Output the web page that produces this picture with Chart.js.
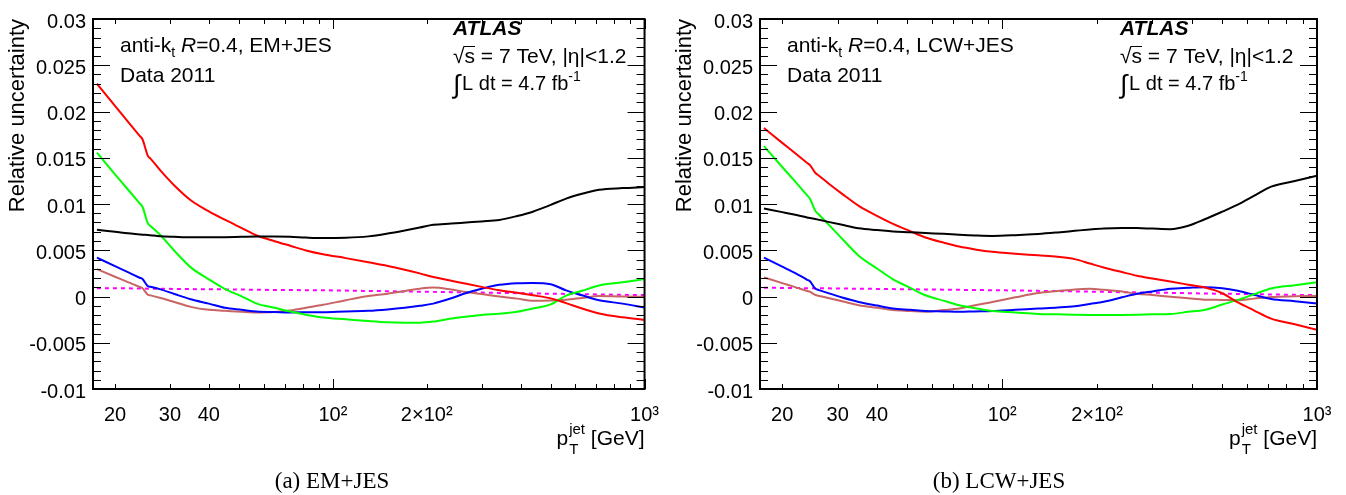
<!DOCTYPE html>
<html>
<head>
<meta charset="utf-8">
<script src="https://cdn.jsdelivr.net/npm/chart.js@4.4.0/dist/chart.umd.min.js"></script>
<style>
  html, body { margin: 0; padding: 0; background: #fff; }
  .panel { position: absolute; top: 0; width: 673px; height: 495px; }
  #panel-em { left: 0; }
  #panel-lcw { left: 673px; }
</style>
</head>
<body>
<div class="panel" id="panel-em"><canvas id="chart-em"></canvas></div>
<div class="panel" id="panel-lcw"><canvas id="chart-lcw"></canvas></div>
<script>
// pT sample points (GeV) the curves were read at
const ptValues = [17.5, 20, 22, 24, 24.5, 25.5, 26, 28, 31, 35, 40, 45, 51, 57, 65, 73, 82, 93, 110, 130, 150, 170, 190, 210, 240, 268, 300, 342, 390, 438, 500, 560, 630, 715, 850, 1000]
const xTickValues = [20, 30, 40, 50, 60, 70, 80, 90, 100, 200, 300, 400, 500, 600, 700, 800, 900, 1000]
const xTickLabels = { 20: "20", 30: "30", 40: "40", 100: "10²", 200: "2×10²", 1000: "10³" }

// (a) EM+JES
const emBlack   = [0.00721, 0.0070, 0.00683, 0.00671, 0.00668, 0.00665, 0.00662, 0.00651, 0.00645, 0.0064, 0.0064, 0.00641, 0.00645, 0.00648, 0.00648, 0.00645, 0.00637, 0.00632, 0.00635, 0.0065, 0.0068, 0.00713, 0.00745, 0.00775, 0.00788, 0.008, 0.00812, 0.00828, 0.0087, 0.00917, 0.0099, 0.01058, 0.0111, 0.01154, 0.01172, 0.01183]
const emRed     = [0.0230, 0.0206, 0.0189, 0.01737, 0.0170, 0.0152, 0.01491, 0.0136, 0.0120, 0.0104, 0.0092, 0.0083, 0.0074, 0.0066, 0.00598, 0.00548, 0.00498, 0.00457, 0.00415, 0.0037, 0.0033, 0.0029, 0.0025, 0.0021, 0.0017, 0.00137, 0.00104, 0.00067, 0.0004, 0.00013, -0.0002, -0.00072, -0.0013, -0.00183, -0.00225, -0.00253]
const emGreen   = [0.01555, 0.01321, 0.01157, 0.01006, 0.0097, 0.0079, 0.00763, 0.00662, 0.00495, 0.00315, 0.00186, 0.00083, 0.00002, -0.00077, -0.00122, -0.00163, -0.00197, -0.00228, -0.00247, -0.00266, -0.00279, -0.00283, -0.00283, -0.00271, -0.00239, -0.00218, -0.00199, -0.00187, -0.00165, -0.0013, -0.00085, 0.0001, 0.00062, 0.00119, 0.00153, 0.00189]
const emBlue    = [0.0042, 0.00328, 0.00263, 0.00203, 0.00189, 0.00112, 0.00105, 0.00077, 0.00027, -0.0003, -0.00077, -0.00122, -0.00144, -0.00163, -0.00168, -0.00172, -0.00171, -0.0017, -0.00162, -0.00155, -0.0014, -0.00122, -0.00101, -0.00077, -0.00019, 0.00037, 0.00083, 0.00126, 0.00144, 0.00147, 0.00133, 0.00066, 0.00013, -0.0004, -0.00077, -0.00119]
const emBrown   = [0.00296, 0.00214, 0.00156, 0.00103, 0.0009, 0.00019, 0.00012, -0.00016, -0.00059, -0.00112, -0.00144, -0.00154, -0.00165, -0.00172, -0.00168, -0.00152, -0.00122, -0.0009, -0.0004, 0.00005, 0.0003, 0.0006, 0.00085, 0.00097, 0.00075, 0.00048, 0.00027, 0.0, -0.00023, -0.00045, -0.00043, -0.00034, -0.00015, 0.00005, 0.0, -0.00002]
const emMagenta = [0.0009, 0.00089, 0.00088, 0.00086, 0.00086, 0.00085, 0.00085, 0.00084, 0.00082, 0.0008, 0.00078, 0.00077, 0.00075, 0.00073, 0.00071, 0.0007, 0.00068, 0.00067, 0.00064, 0.0006, 0.00057, 0.00054, 0.00052, 0.0005, 0.00047, 0.00044, 0.00042, 0.00039, 0.00036, 0.00033, 0.0003, 0.00028, 0.00025, 0.00022, 0.00018, 0.00015]

// (b) LCW+JES
const lcwBlack   = [0.00952, 0.00912, 0.00883, 0.00855, 0.00849, 0.00837, 0.00831, 0.00807, 0.00775, 0.00738, 0.00718, 0.00704, 0.00695, 0.00686, 0.00678, 0.00668, 0.0066, 0.00655, 0.00663, 0.00676, 0.00693, 0.0071, 0.00725, 0.00736, 0.00741, 0.0074, 0.00734, 0.00728, 0.00765, 0.00832, 0.00917, 0.00993, 0.01087, 0.01188, 0.01248, 0.01306]
const lcwRed     = [0.01821, 0.01661, 0.01548, 0.01444, 0.0142, 0.01335, 0.01313, 0.01225, 0.0111, 0.0098, 0.00872, 0.00785, 0.00707, 0.00638, 0.00583, 0.00540, 0.00509, 0.00483, 0.00463, 0.00445, 0.00429, 0.00404, 0.00356, 0.00313, 0.00264, 0.00225, 0.00195, 0.00161, 0.00128, 0.00099, 0.00035, -0.00064, -0.00149, -0.00239, -0.003, -0.0036]
const lcwGreen   = [0.01626, 0.014, 0.01241, 0.01093, 0.01058, 0.00924, 0.00894, 0.00782, 0.00624, 0.00441, 0.00303, 0.00186, 0.00094, 0.00013, -0.00045, -0.00094, -0.00126, -0.00157, -0.00173, -0.00189, -0.00193, -0.00197, -0.00199, -0.002, -0.00199, -0.00197, -0.00193, -0.00189, -0.00166, -0.00145, -0.00087, -0.00037, 0.00023, 0.00087, 0.00122, 0.00154]
const lcwBlue    = [0.0042, 0.00323, 0.00253, 0.00181, 0.00165, 0.00083, 0.00073, 0.00036, -0.00011, -0.00059, -0.00098, -0.0013, -0.00144, -0.00157, -0.00161, -0.00165, -0.00161, -0.00157, -0.00144, -0.0013, -0.00119, -0.00105, -0.0008, -0.00057, -0.00009, 0.0003, 0.00055, 0.00083, 0.00094, 0.00101, 0.0009, 0.00062, 0.00019, -0.00027, -0.00051, -0.00077]
const lcwBrown   = [0.00207, 0.00145, 0.00101, 0.0006, 0.00051, 0.00016, 0.00009, -0.00016, -0.00051, -0.00094, -0.00122, -0.00147, -0.00157, -0.00165, -0.00147, -0.0013, -0.00094, -0.00059, -0.00009, 0.00037, 0.00059, 0.00077, 0.00083, 0.00072, 0.00053, 0.0003, 0.00016, -0.00002, -0.00019, -0.00034, -0.00037, -0.0004, -0.00023, -0.00005, 0.00002, 0.00005]
const lcwMagenta = [0.00094, 0.00093, 0.00092, 0.0009, 0.0009, 0.00089, 0.00089, 0.00088, 0.00086, 0.00084, 0.00082, 0.0008, 0.00078, 0.00076, 0.00074, 0.00072, 0.0007, 0.00068, 0.00065, 0.00061, 0.00058, 0.00055, 0.00053, 0.0005, 0.00047, 0.00045, 0.00042, 0.00039, 0.00036, 0.00033, 0.0003, 0.00028, 0.00025, 0.00022, 0.00018, 0.00015]

const sansFont = "'Liberation Sans', Arial, Helvetica, sans-serif"
const serifFont = "'Liberation Serif', 'Times New Roman', serif"

Chart.defaults.font.family = sansFont
Chart.defaults.font.size = 20
Chart.defaults.color = "#000"

function lineDataset(values, color, dashed) {
  return {
    data: ptValues.map((pt, i) => ({ x: pt, y: values[i] })),
    borderColor: color,
    borderWidth: 2,
    borderDash: dashed ? [4, 4] : [],
    pointRadius: 0,
    fill: false,
    cubicInterpolationMode: "monotone"
  }
}

function drawParts(ctx, x, y, parts) {
  parts.forEach(p => {
    ctx.font = p.font
    ctx.fillText(p.text, x, y + (p.dy || 0))
    x += ctx.measureText(p.text).width + (p.gap || 0)
  })
  return x
}

const atlasDecor = {
  id: "atlasDecor",
  afterDatasetsDraw(chart) {
    const { ctx, chartArea: a, scales: { x, y } } = chart
    ctx.save()
    ctx.strokeStyle = "#000"
    ctx.lineWidth = 1
    ctx.beginPath()
    xTickValues.forEach(v => {
      const px = Math.round(x.getPixelForValue(v)) + 0.5
      const len = (v === 100 || v === 1000) ? 10 : 5
      ctx.moveTo(px, a.bottom)
      ctx.lineTo(px, a.bottom - len)
      ctx.moveTo(px, a.top)
      ctx.lineTo(px, a.top + len)
    })
    for (let i = -10; i <= 30; i++) {
      const py = Math.round(y.getPixelForValue(i / 1000)) + 0.5
      const len = i % 5 === 0 ? 17 : 8
      ctx.moveTo(a.left, py)
      ctx.lineTo(a.left + len, py)
      ctx.moveTo(a.right, py)
      ctx.lineTo(a.right - len, py)
    }
    ctx.stroke()
    ctx.lineWidth = 2
    ctx.strokeRect(a.left, a.top, a.right - a.left, a.bottom - a.top)
    ctx.restore()
  },
  afterDraw(chart, args, opts) {
    const { ctx, chartArea: a } = chart
    ctx.save()
    ctx.fillStyle = "#000"
    ctx.textBaseline = "alphabetic"
    ctx.textAlign = "left"

    // labels in the plot
    const lx = a.left + 27
    drawParts(ctx, lx, 52, [
      { text: "anti-k", font: `21px ${sansFont}` },
      { text: "t", font: `14px ${sansFont}`, dy: 5 },
      { text: " ", font: `21px ${sansFont}` },
      { text: "R", font: `italic 21px ${sansFont}` },
      { text: "=0.4, " + opts.label, font: `21px ${sansFont}` }
    ])
    drawParts(ctx, lx, 82, [{ text: "Data 2011", font: `21px ${sansFont}` }])

    const rx = a.left + 360
    drawParts(ctx, rx, 35, [{ text: "ATLAS", font: `italic bold 21px ${sansFont}` }])

    ctx.font = `21px ${sansFont}`
    const sqrtW = ctx.measureText("√").width
    const sW = ctx.measureText("s").width
    const sqrtTop = 63 - ctx.measureText("√").actualBoundingBoxAscent
    drawParts(ctx, rx, 63, [{ text: "√s = 7 TeV, |η|<1.2", font: `21px ${sansFont}` }])
    ctx.lineWidth = 1
    ctx.beginPath()
    ctx.moveTo(rx + sqrtW - 1, sqrtTop + 0.5)
    ctx.lineTo(rx + sqrtW + sW, sqrtTop + 0.5)
    ctx.stroke()

    drawParts(ctx, rx, 90, [
      { text: "∫", font: `26px ${sansFont}`, dy: 3, gap: 2 },
      { text: "L dt = 4.7 fb", font: `20px ${sansFont}` },
      { text: "-1", font: `14px ${sansFont}`, dy: -9 }
    ])

    // y axis title
    ctx.save()
    ctx.translate(a.left - 75, a.top)
    ctx.rotate(-Math.PI / 2)
    ctx.textAlign = "right"
    ctx.textBaseline = "middle"
    ctx.font = `22px ${sansFont}`
    ctx.fillText("Relative uncertainty", 0, 0)
    ctx.restore()

    // x axis title, right aligned to the frame
    ctx.font = `21px ${sansFont}`
    const pW = ctx.measureText("p").width
    const unitW = ctx.measureText(" [GeV]").width
    ctx.font = `15px ${sansFont}`
    const supW = Math.max(ctx.measureText("jet").width, ctx.measureText("T").width)
    const tx = a.right - unitW - supW - pW - 1
    const ty = 445
    ctx.font = `21px ${sansFont}`
    ctx.fillText("p", tx, ty)
    ctx.font = `15px ${sansFont}`
    ctx.fillText("jet", tx + pW + 1, ty - 11)
    ctx.fillText("T", tx + pW + 1, ty + 9)
    ctx.font = `21px ${sansFont}`
    ctx.fillText(" [GeV]", tx + pW + supW + 1, ty)

    // caption
    ctx.font = `23px ${serifFont}`
    ctx.textAlign = "center"
    ctx.fillText(opts.caption, opts.captionX, 488)
    ctx.restore()
  }
}

function buildChart(canvasId, panel) {
  const datasets = [
    lineDataset(panel.black, "#000000"),
    lineDataset(panel.red, "#ff0000"),
    lineDataset(panel.green, "#00ff00"),
    lineDataset(panel.blue, "#0000ff"),
    lineDataset(panel.brown, "#c86464"),
    lineDataset(panel.magenta, "#ff00ff", true)
  ]
  return new Chart(document.getElementById(canvasId), {
    type: "line",
    data: { datasets },
    plugins: [atlasDecor],
    options: {
      responsive: true,
      maintainAspectRatio: false,
      animation: false,
      layout: { padding: { top: 13, right: panel.padRight, bottom: 0, left: 0 } },
      plugins: {
        legend: { display: false },
        tooltip: { enabled: false },
        atlasDecor: { label: panel.label, caption: panel.caption, captionX: panel.captionX }
      },
      scales: {
        x: {
          type: "logarithmic",
          min: 17,
          max: 1000,
          grid: { display: false, drawTicks: false },
          border: { display: false },
          afterBuildTicks: scale => { scale.ticks = xTickValues.map(v => ({ value: v })) },
          afterFit: scale => { scale.height = 106 },
          ticks: {
            autoSkip: false,
            maxRotation: 0,
            minRotation: 0,
            padding: 14,
            font: { size: 20 },
            callback: value => xTickLabels[value] || ""
          }
        },
        y: {
          min: -0.01,
          max: 0.03,
          grid: { display: false, drawTicks: false },
          border: { display: false },
          afterFit: scale => { scale.width = panel.axisWidth },
          ticks: {
            stepSize: 0.005,
            padding: 7,
            labelOffset: 3,
            font: { size: 20 },
            callback: value => Number(value.toFixed(3)).toString()
          }
        }
      }
    }
  })
}

buildChart("chart-em", {
  label: "EM+JES", caption: "(a) EM+JES", captionX: 332, padRight: 24, axisWidth: 93,
  black: emBlack, red: emRed, green: emGreen, blue: emBlue, brown: emBrown, magenta: emMagenta
})

buildChart("chart-lcw", {
  label: "LCW+JES", caption: "(b) LCW+JES", captionX: 326, padRight: 29, axisWidth: 87,
  black: lcwBlack, red: lcwRed, green: lcwGreen, blue: lcwBlue, brown: lcwBrown, magenta: lcwMagenta
})
</script>
</body>
</html>
